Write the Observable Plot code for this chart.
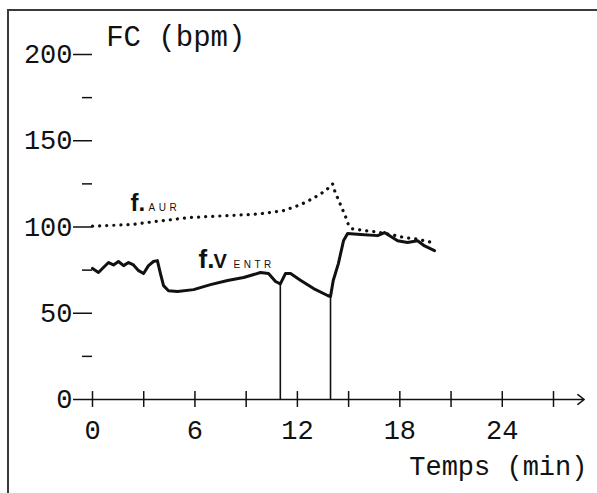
<!DOCTYPE html>
<html><head><meta charset="utf-8">
<script src="https://cdn.jsdelivr.net/npm/d3@7"></script>
<script src="https://cdn.jsdelivr.net/npm/@observablehq/plot@0.6"></script>
<style>
html,body{margin:0;padding:0;background:#fff;}
#wrap{position:relative;width:597px;height:493px;overflow:hidden;}
#frame{position:absolute;left:7px;top:9px;right:-5px;bottom:-5px;border-left:2px solid #3a3a3a;border-top:2px solid #3a3a3a;pointer-events:none;}
</style></head><body>
<div id="wrap"><div id="chart"></div><div id="frame"></div></div>
<script>
// f. VENTR (ventricular rate), solid line
const ventrTime = [0, 0.35, 0.64, 0.94, 1.23, 1.52, 1.82, 2.11, 2.4, 2.7, 2.99, 3.28, 3.57, 3.8, 3.98, 4.16, 4.45, 4.98, 5.92, 6.91, 7.91, 8.85, 9.84, 10.31, 10.72, 11.0, 11.3, 11.6, 12.2, 12.95, 13.77, 13.94, 14.1, 14.4, 14.7, 14.94, 15.7, 16.7, 17.1, 17.87, 18.45, 19.04, 19.45, 20.03];
const ventrRate = [76, 73.6, 76.5, 79.4, 78, 80, 77.6, 79.4, 78, 74.7, 73, 77.6, 80, 80.5, 73, 66, 63, 62.6, 63.7, 66.6, 69, 70.7, 73.6, 73, 68.4, 67, 73, 73, 69, 64.3, 60.3, 59.7, 69, 78.8, 92, 96.2, 95.6, 95, 96.8, 92, 91, 92, 89, 86.3];
// f. AUR (atrial rate), dotted line
const aurTime = [0, 2.4, 3.1, 4.4, 5.7, 7.7, 9.7, 11.2, 12.2, 12.9, 13.65, 14.06, 14.2, 14.5, 14.8, 15.0, 15.2, 15.9, 16.7, 17.5, 18.2, 19.0, 19.9];
const aurRate = [100.5, 101.5, 102.5, 104, 105.5, 106.5, 107.5, 109.5, 113, 116.5, 121, 125, 120.5, 113.5, 106.6, 101, 99, 98, 97, 95.6, 94, 93, 91];
// vertical drops
const dropTime = [11.0, 13.94];
const dropRate = [67, 59.7];
// ticks
const yLabels = [0, 50, 100, 150, 200];
const yMinor = [25, 75, 125, 175];
const xTicks = [0, 3, 6, 9, 12, 15, 18, 21, 24, 27];
const xLabels = [0, 6, 12, 18, 24];
const xAxisEnd = 28.8;

const ventr = ventrTime.map((t, i) => ({t, v: ventrRate[i]}));
const aur = aurTime.map((t, i) => ({t, v: aurRate[i]}));
const drops = dropTime.map((t, i) => ({t, v: dropRate[i]}));

const mono = "Liberation Mono";
const sans = "Liberation Sans";
const ink = "#111";

const svg = Plot.plot({
  width: 597, height: 493,
  marginLeft: 92, marginRight: 44, marginTop: 54, marginBottom: 94,
  x: {domain: [0, 27], label: null},
  y: {domain: [0, 200], label: null},
  style: {fontFamily: mono, fontSize: "27px", color: ink, background: "transparent", overflow: "visible"},
  marks: [
    Plot.axisY(yLabels, {anchor: "left", tickSize: 19, tickPadding: 1, strokeWidth: 1.5, fontSize: 27, fontFamily: mono, label: null}),
    Plot.axisY(yMinor, {anchor: "left", tickSize: 10, tickFormat: () => "", strokeWidth: 1.5, label: null}),
    Plot.axisX(xLabels, {tickSize: 0, tickPadding: 20, fontSize: 27, fontFamily: mono, label: null}),
    Plot.ruleX(xTicks, {y1: -4.6, y2: 4.6, strokeWidth: 1.5, stroke: ink}),
    Plot.arrow([0], {x1: 0, x2: xAxisEnd, y1: 0, y2: 0, headLength: 8, headAngle: 75, strokeWidth: 1.5, stroke: ink}),
    Plot.ruleX(drops, {x: "t", y1: 0, y2: "v", strokeWidth: 1.6, stroke: ink}),
    Plot.line(aur, {x: "t", y: "v", stroke: ink, strokeWidth: 3.2, strokeDasharray: "0.1 7", strokeLinecap: "round"}),
    Plot.line(ventr, {x: "t", y: "v", stroke: ink, strokeWidth: 3, strokeLinejoin: "round"}),
    Plot.text(["FC (bpm)"], {x: 0.8, y: 205.1, text: d => d, textAnchor: "start", lineAnchor: "bottom", fontSize: 29, fontFamily: mono, fill: ink}),
    Plot.text(["Temps (min)"], {x: 18.55, y: -44, text: d => d, textAnchor: "start", lineAnchor: "bottom", fontSize: 27, fontFamily: mono, fill: ink}),
    Plot.text(["f."], {x: 2.23, y: 109.5, text: d => d, textAnchor: "start", lineAnchor: "bottom", fontSize: 24, fontWeight: "bold", fontFamily: sans, fill: ink}),
    Plot.text(["AUR"], {x: 3.28, y: 109.5, text: d => d, textAnchor: "start", lineAnchor: "bottom", fontSize: 10, fontFamily: sans, fill: ink}),
    Plot.text(["f."], {x: 6.21, y: 76.5, text: d => d, textAnchor: "start", lineAnchor: "bottom", fontSize: 26, fontWeight: "bold", fontFamily: sans, fill: ink}),
    Plot.text(["V"], {x: 7.09, y: 76.5, text: d => d, textAnchor: "start", lineAnchor: "bottom", fontSize: 20, fontWeight: "bold", fontFamily: sans, fill: ink}),
    Plot.text(["ENTR"], {x: 8.26, y: 76.5, text: d => d, textAnchor: "start", lineAnchor: "bottom", fontSize: 10, fontFamily: sans, fill: ink})
  ]
});
d3.select(svg).selectAll("text").filter(function() { return this.textContent === "AUR"; }).attr("letter-spacing", 3.5);
d3.select(svg).selectAll("text").filter(function() { return this.textContent === "ENTR"; }).attr("letter-spacing", 3.5);
document.getElementById("chart").appendChild(svg);
</script>
</body></html>
